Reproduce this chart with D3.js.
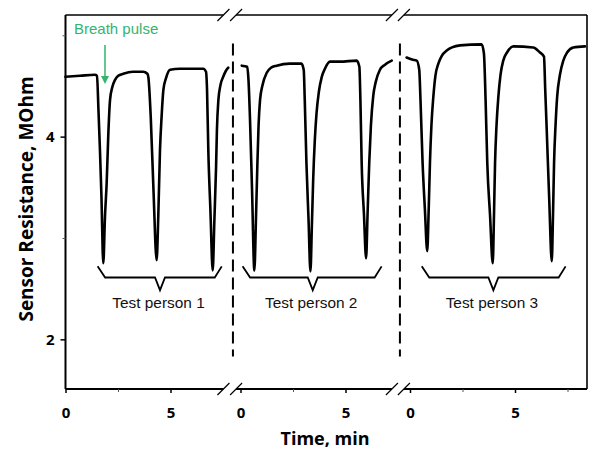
<!DOCTYPE html>
<html><head><meta charset="utf-8">
<script src="https://cdn.jsdelivr.net/npm/d3@7"></script>
<style>body{margin:0;background:#fff}</style>
</head><body><svg id="c" width="600" height="457"></svg>
<script>
// ---- data (time in min within each panel, resistance in MOhm) ----
const panel1Time  = [0,0.69,1.40,1.50,1.57,1.64,1.71,1.80,1.88,1.96,2.04,2.12,2.23,2.36,2.51,2.75,3.21,3.70,3.90,3.95,4.06,4.19,4.34,4.42,4.50,4.58,4.66,4.79,4.98,5.45,6.56,6.69,6.74,6.80,6.90,7.01,7.09,7.17,7.21,7.28,7.38,7.51,7.64,7.75];
const panel1Value = [4.59,4.60,4.61,4.60,4.26,3.87,3.42,2.75,3.21,3.54,4.03,4.36,4.49,4.56,4.60,4.62,4.64,4.64,4.62,4.58,4.19,3.47,2.78,3.23,3.87,4.21,4.46,4.58,4.66,4.67,4.67,4.64,4.46,3.87,3.28,2.68,3.18,3.70,4.06,4.36,4.51,4.59,4.65,4.68];
const panel2Time  = [0.06,0.32,0.38,0.45,0.55,0.66,0.74,0.80,0.86,0.93,1.05,1.25,1.45,1.72,2.35,2.90,3.01,3.06,3.14,3.24,3.33,3.40,3.46,3.54,3.62,3.73,3.87,4.02,4.26,4.74,5.53,5.66,5.71,5.77,5.88,5.98,6.05,6.13,6.21,6.32,6.44,6.64,6.88,7.20];
const panel2Value = [4.70,4.69,4.56,4.19,3.47,2.68,3.22,3.70,4.11,4.36,4.51,4.63,4.68,4.70,4.72,4.72,4.66,4.36,3.74,3.18,2.67,3.13,3.57,3.97,4.23,4.44,4.59,4.67,4.74,4.74,4.75,4.69,4.36,3.74,3.23,2.80,3.23,3.74,4.11,4.40,4.54,4.66,4.71,4.75];
const panel3Time  = [-0.16,0.10,0.32,0.44,0.50,0.60,0.71,0.82,0.89,0.95,1.02,1.11,1.21,1.35,1.52,1.75,2.00,2.38,3.41,3.52,3.60,3.68,3.81,3.94,4.00,4.05,4.12,4.21,4.31,4.44,4.62,4.92,5.87,6.19,6.38,6.44,6.51,6.63,6.75,6.81,6.86,6.93,7.01,7.14,7.30,7.48,7.78,8.33];
const panel3Value = [4.78,4.76,4.75,4.66,4.36,3.74,3.28,2.87,3.28,3.74,4.11,4.39,4.60,4.72,4.80,4.85,4.88,4.90,4.91,4.82,4.36,3.74,3.23,2.75,3.23,3.74,4.11,4.40,4.61,4.75,4.83,4.89,4.88,4.83,4.79,4.46,4.07,3.38,2.77,3.23,3.74,4.11,4.40,4.61,4.75,4.83,4.88,4.89];

const panelNames = ["Test person 1","Test person 2","Test person 3"];
const xMajorTicks = [0,5];
const xMinorTicks = [[2.5],[2.5],[2.5,7.5]];
const yMajorTicks = [2,4];
const yMinorTicks = [3,5];
const axisExtent = [[0,7.52],[-0.21,7.21],[-0.29,8.43]];
const bracketStart = [1.53,0.10,0.56];
const bracketMid   = [4.50,3.44,3.97];
const bracketEnd   = [7.44,6.72,7.41];
const breathPulseTime = 1.88;
const separators = [{panel:1,t:-0.36},{panel:2,t:-0.48}];

(function(){
// ---- layout ----
const svg = d3.select("#c");
const panelOrigin = [65.5,240.5,410];
const pxPerMin = 21;
const pL = 65.5, pR = 587, pT = 15, pB = 389;
const xs = panelOrigin.map(o => d3.scaleLinear().domain([0,5]).range([o, o+5*pxPerMin]));
const y = d3.scaleLinear().domain([1.51,5.2]).range([pB, pT]);

const series = [
  {t:panel1Time, v:panel1Value},
  {t:panel2Time, v:panel2Value},
  {t:panel3Time, v:panel3Value}
];

const axisFont = "'Open Sans', sans-serif";
const labFont = "'Liberation Sans', Arial, sans-serif";

svg.append("line").attr("x1",pL).attr("x2",pL).attr("y1",pT).attr("y2",pB)
  .attr("stroke","#000").attr("stroke-width",2);
svg.append("line").attr("x1",pR).attr("x2",pR).attr("y1",pT).attr("y2",pB)
  .attr("stroke","#000").attr("stroke-width",1.6);

axisExtent.forEach((ext,i) => {
  [pT,pB].forEach(yy => {
    svg.append("line").attr("x1",xs[i](ext[0])).attr("x2",xs[i](ext[1]))
      .attr("y1",yy).attr("y2",yy).attr("stroke","#000").attr("stroke-width", yy===pB?2:1.6);
  });
});
[[0,1],[1,2]].forEach(([a,b]) => {
  const xa = xs[a](axisExtent[a][1]), xb = xs[b](axisExtent[b][0]);
  [pT,pB].forEach(yy => {
    [xa,xb].forEach(xx => {
      svg.append("line").attr("x1",xx-6).attr("y1",yy+6).attr("x2",xx+6).attr("y2",yy-6)
        .attr("stroke","#000").attr("stroke-width",1.2);
    });
  });
});

const yAx = svg.append("g").attr("transform",`translate(${pL},0)`)
  .call(d3.axisLeft(y).tickValues(yMajorTicks).tickSize(5).tickPadding(6).tickFormat(d3.format("d")));
yAx.select(".domain").remove();
yAx.selectAll("line").attr("stroke-width",1.5);
yAx.selectAll("text").attr("font-family",axisFont).attr("font-weight",700).attr("font-size",15).attr("fill","#000");
const yMin = svg.append("g").attr("transform",`translate(${pL},0)`)
  .call(d3.axisLeft(y).tickValues(yMinorTicks).tickSize(3).tickFormat(""));
yMin.select(".domain").remove();
yMin.selectAll("line").attr("stroke","#555").attr("stroke-width",1);

xs.forEach((sc,i) => {
  const g = svg.append("g").attr("transform",`translate(0,${pB})`)
    .call(d3.axisBottom(sc).tickValues(xMajorTicks).tickSize(4).tickPadding(14).tickFormat(d3.format("d")));
  g.select(".domain").remove();
  g.selectAll("line").attr("stroke-width",1.5);
  g.selectAll("text").attr("font-family",axisFont).attr("font-weight",700).attr("font-size",15).attr("fill","#000");
  const gm = svg.append("g").attr("transform",`translate(0,${pB})`)
    .call(d3.axisBottom(sc).tickValues(xMinorTicks[i]).tickSize(3).tickFormat(""));
  gm.select(".domain").remove();
  gm.selectAll("line").attr("stroke","#555").attr("stroke-width",1);
});

separators.forEach(s => {
  const xx = xs[s.panel](s.t);
  svg.append("line").attr("x1",xx).attr("x2",xx).attr("y1",y(4.92)).attr("y2",y(1.83))
    .attr("stroke","#000").attr("stroke-width",2).attr("stroke-dasharray","12,6");
});

series.forEach((s,i) => {
  const pts = s.t.map((t,k) => [t, s.v[k]]);
  const line = d3.line().x(d => xs[i](d[0])).y(d => y(d[1])).curve(d3.curveMonotoneX);
  svg.append("path").attr("d", line(pts)).attr("fill","none").attr("stroke","#000")
    .attr("stroke-width",2.6).attr("stroke-linejoin","round").attr("stroke-linecap","round");
});

const yEnd = y(2.72), yBar = y(2.61), yTip = y(2.485);
panelNames.forEach((name,i) => {
  const sc = xs[i];
  const xL = sc(bracketStart[i]), xR = sc(bracketEnd[i]), xM = sc(bracketMid[i]);
  const p = d3.path();
  p.moveTo(xL, yEnd); p.lineTo(xL+7.5, yBar); p.lineTo(xM-5, yBar); p.lineTo(xM, yTip);
  p.lineTo(xM+5, yBar); p.lineTo(xR-7, yBar); p.lineTo(xR, yEnd);
  svg.append("path").attr("d", p.toString()).attr("fill","none").attr("stroke","#000").attr("stroke-width",1.8);
  svg.append("text").attr("x", xM-1.5).attr("y", 308).attr("text-anchor","middle")
    .attr("font-family",labFont).attr("font-size",15.4).attr("fill","#111").text(name);
});

const green = "#33b46e";
const ax = xs[0](breathPulseTime);
svg.append("text").attr("x",74).attr("y",33.5).attr("font-family",labFont).attr("font-size",15)
  .attr("fill",green).text("Breath pulse");
svg.append("line").attr("x1",ax).attr("x2",ax).attr("y1",45).attr("y2",77).attr("stroke",green).attr("stroke-width",1.5);
svg.append("path").attr("d",`M${ax-4},76L${ax+4},76L${ax},84Z`).attr("fill",green);

svg.append("text").attr("x",325).attr("y",445).attr("text-anchor","middle")
  .attr("font-family",axisFont).attr("font-weight",700).attr("font-size",18).text("Time, min");
svg.append("text").attr("transform","translate(33,199) rotate(-90)").attr("text-anchor","middle")
  .attr("font-family",axisFont).attr("font-weight",700).attr("font-size",19).text("Sensor Resistance, MOhm");
})();
</script></body></html>
